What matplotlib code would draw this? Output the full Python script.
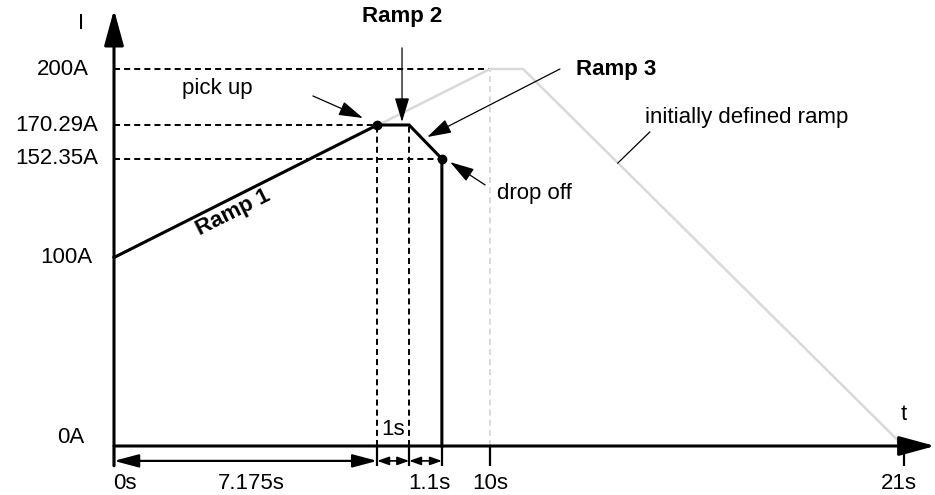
import numpy as np
import matplotlib
matplotlib.use("Agg")
import matplotlib.pyplot as plt

plt.rcParams['font.family'] = ['Liberation Sans', 'DejaVu Sans']

# ======================================
# DATA (schematic positions, not to scale)
# ======================================

# initially defined ramp (grey)
init_t = [0, 10, 10.88, 21]
init_i = [100, 200, 200, 0]

# executed ramp (black)
ramp_t = [0, 7.0, 7.85, 8.72, 8.72]
ramp_i = [100, 170.29, 170.29, 152.35, 0]

pick_up = (7.0, 170.29)
drop_off = (8.72, 152.35)

y_levels = [200, 170.29, 152.35, 100, 0]
y_labels = ["200A", "170.29A", "152.35A", "100A", "0A"]
y_label_x = [-0.68, -0.42, -0.42, -0.58, -0.79]

x_ticks = [0, 7.0, 7.85, 8.72, 10, 21]
x_labels = [("0s", 0.3), ("7.175s", 3.64), ("1.1s", 8.38), ("10s", 10.0), ("21s", 20.88)]

# ======================================
# FIGURE
# ======================================

fig = plt.figure(figsize=(9.35, 4.95), dpi=100)
ax = fig.add_axes([0, 0, 1, 1])
ax.set_xlim(-114 / 37.6, (935 - 114) / 37.6)
ax.set_ylim((446 - 495) / 1.885, 446 / 1.885)
ax.axis("off")

FS = 16
black = "black"
grey = "#d9d9d9"
DASH = (0, (3.1, 2.1))

# helper lines (dashed)
for lvl, t_end in [(200, 10), (170.29, pick_up[0]), (152.35, drop_off[0])]:
    ax.plot([0, t_end], [lvl, lvl], color=black, lw=1.4, ls=DASH, zorder=1)
for t in [pick_up[0], 7.85]:
    ax.plot([t, t], [0, 170.29], color=black, lw=1.4, ls=DASH, zorder=1)
ax.plot([10, 10], [0, 200], color=grey, lw=1.4, ls=DASH, zorder=1)

# ramps
ax.plot(init_t, init_i, color=grey, lw=1.8, zorder=2, solid_joinstyle="miter")
ax.plot(ramp_t, ramp_i, color=black, lw=2.2, zorder=3, solid_joinstyle="miter")
ax.plot(*zip(pick_up, drop_off), 'o', color=black, ms=6, zorder=4)

# axes with arrow heads
ax.annotate("", xy=(0, 231.5), xytext=(0, -10.5),
            arrowprops=dict(arrowstyle="-|>,head_length=2.2,head_width=0.6", mutation_scale=10,
                            color=black, lw=2.2, shrinkA=0, shrinkB=0), annotation_clip=False)
ax.annotate("", xy=((935 - 114) / 37.6, 0), xytext=(0, 0),
            arrowprops=dict(arrowstyle="-|>,head_length=2.2,head_width=0.6", mutation_scale=10,
                            color=black, lw=2.2, shrinkA=0, shrinkB=0), annotation_clip=False)
ax.text(-0.88, 224.4, "I", fontsize=FS, ha="center", va="center")
ax.text(21.0, 16.5, "t", fontsize=FS, ha="center", va="center")

# tick marks on time axis
for t in x_ticks:
    ax.plot([t, t], [0, -10.5], color=black, lw=1.6, solid_capstyle="butt")

# dimension arrows
dim_y = -7.9
ax.annotate("", xy=(0, dim_y), xytext=(pick_up[0], dim_y),
            arrowprops=dict(arrowstyle="<|-|>,head_length=1.5,head_width=0.4", mutation_scale=10,
                            color=black, lw=1.6, shrinkA=0, shrinkB=0))
for a, b in [(pick_up[0], 7.85), (7.85, 8.72)]:
    ax.annotate("", xy=(a, dim_y), xytext=(b, dim_y),
                arrowprops=dict(arrowstyle="<|-|>,head_length=0.7,head_width=0.25", mutation_scale=10,
                                color=black, lw=1.2, shrinkA=0, shrinkB=0))

for lab, xp in x_labels:
    ax.text(xp, -20.0, lab, fontsize=FS, ha="center", va="center")
ax.text(7.42, 9.0, "1s", fontsize=FS, ha="center", va="center")

for lvl, lab, xp in zip(y_levels, y_labels, y_label_x):
    yp = lvl + 4.5 if lvl == 0 else lvl
    ax.text(xp, yp, lab, fontsize=FS, ha="right", va="center")

# annotations
thin = dict(arrowstyle="-|>,head_length=1.5,head_width=0.45", mutation_scale=10,
            color=black, lw=0.9, shrinkA=0, shrinkB=0)
ax.text(2.75, 189.5, "pick up", fontsize=FS, ha="center", va="center")
ax.annotate("", xy=(6.62, 174.0), xytext=(5.29, 185.7), arrowprops=thin)

ax.text(7.66, 227.6, "Ramp 2", fontsize=FS, fontweight="bold", ha="center", va="center")
ax.annotate("", xy=(7.66, 171.9), xytext=(7.66, 211.2), arrowprops=thin)

ax.text(12.3, 199.5, "Ramp 3", fontsize=FS, fontweight="bold", ha="left", va="center")
ax.annotate("", xy=(8.33, 163.9), xytext=(11.86, 200.0), arrowprops=thin)

ax.text(10.19, 134.2, "drop off", fontsize=FS, ha="left", va="center")
ax.annotate("", xy=(8.94, 150.6), xytext=(9.87, 138.5), arrowprops=thin)

ax.text(14.12, 174.5, "initially defined ramp", fontsize=FS, ha="left", va="center")
ax.plot([14.25, 13.40], [166.6, 150.1], color=black, lw=0.9)

ax.text(3.18, 124.0, "Ramp 1", fontsize=FS, fontweight="bold", ha="center", va="center",
        rotation=26.6, rotation_mode="anchor")

fig.savefig("out.png", dpi=100)
